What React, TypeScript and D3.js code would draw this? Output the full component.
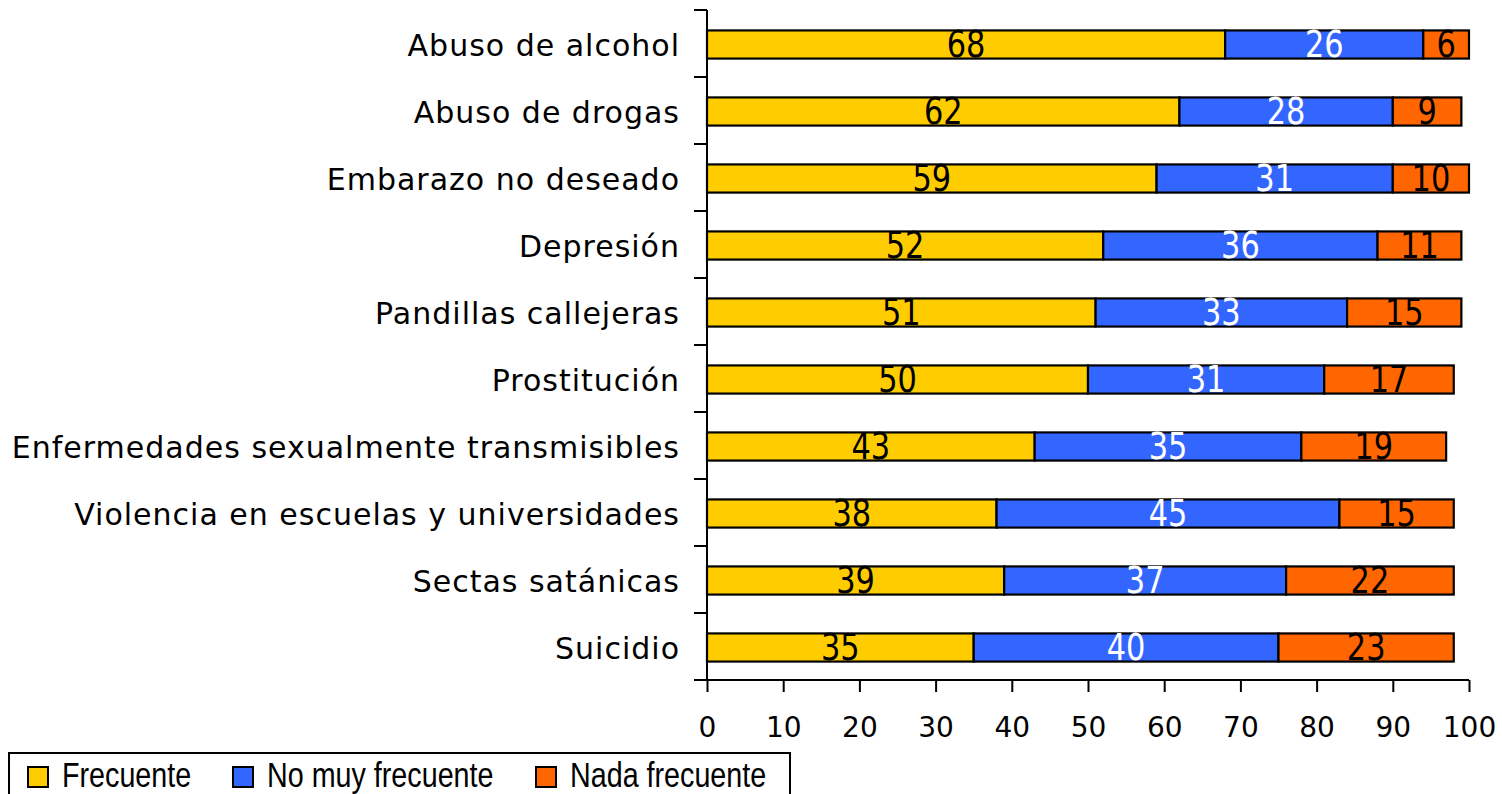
import { useEffect, useRef } from 'react';
import * as d3 from 'd3';

const categories = [
  'Abuso de alcohol',
  'Abuso de drogas',
  'Embarazo no deseado',
  'Depresión',
  'Pandillas callejeras',
  'Prostitución',
  'Enfermedades sexualmente transmisibles',
  'Violencia en escuelas y universidades',
  'Sectas satánicas',
  'Suicidio',
];
const frecuente = [68, 62, 59, 52, 51, 50, 43, 38, 39, 35];
const noMuyFrecuente = [26, 28, 31, 36, 33, 31, 35, 45, 37, 40];
const nadaFrecuente = [6, 9, 10, 11, 15, 17, 19, 15, 22, 23];
const seriesNames = ['Frecuente', 'No muy frecuente', 'Nada frecuente'];
const seriesColors = ['#FFCC00', '#3366FF', '#FF6600'];
const labelColors = ['#000', '#fff', '#000'];
const xTicks = [0, 10, 20, 30, 40, 50, 60, 70, 80, 90, 100];

export default function App() {
  const svgRef = useRef<SVGSVGElement>(null);

  useEffect(() => {
    if (!svgRef.current) return;
    const svg = d3.select(svgRef.current);
    svg.selectAll('*').remove();

    const left = 707;
    const right = 1469;
    const top = 10;
    const bottom = 680;

    const x = d3.scaleLinear().domain([0, 100]).range([left, right]);
    const y = d3.scaleBand<string>().domain(categories).range([top, bottom]).paddingInner(0.58).paddingOuter(0.29);

    const rows = categories.map((c, i) => ({
      cat: c,
      vals: [frecuente[i], noMuyFrecuente[i], nadaFrecuente[i]],
    }));

    // stacked segments
    const segs = rows.flatMap((r) => {
      let acc = 0;
      return r.vals.map((v, k) => {
        const s = { cat: r.cat, k, x0: acc, x1: acc + v, v };
        acc += v;
        return s;
      });
    });

    const g = svg.append('g');
    g.selectAll('rect.seg')
      .data(segs)
      .enter()
      .append('rect')
      .attr('class', 'seg')
      .attr('x', (d) => x(d.x0))
      .attr('y', (d) => y(d.cat)! + 1)
      .attr('width', (d) => x(d.x1) - x(d.x0))
      .attr('height', y.bandwidth())
      .attr('fill', (d) => seriesColors[d.k])
      .attr('stroke', '#000')
      .attr('stroke-width', 2.2);

    g.selectAll('text.val')
      .data(segs)
      .enter()
      .append('text')
      .attr('class', 'val')
      .attr('transform', (d) => `translate(${(x(d.x0) + x(d.x1)) / 2},${y(d.cat)! + y.bandwidth() / 2 + 13}) scale(0.8,1)`)
      .attr('text-anchor', 'middle')
      .attr('font-family', 'DejaVu Sans')
      .attr('font-size', 38)
      .attr('fill', (d) => labelColors[d.k])
      .text((d) => d.v);

    // y axis: line + ticks at band boundaries
    const step = y.step();
    const yAxis = svg.append('g');
    yAxis.append('line')
      .attr('x1', left).attr('x2', left)
      .attr('y1', top).attr('y2', bottom)
      .attr('stroke', '#000').attr('stroke-width', 2);
    yAxis.selectAll('line.tk')
      .data(d3.range(categories.length + 1))
      .enter()
      .append('line')
      .attr('class', 'tk')
      .attr('x1', left - 13).attr('x2', left)
      .attr('y1', (i) => top + i * step).attr('y2', (i) => top + i * step)
      .attr('stroke', '#000').attr('stroke-width', 2);
    yAxis.selectAll('text.cat')
      .data(categories)
      .enter()
      .append('text')
      .attr('class', 'cat')
      .attr('x', 680)
      .attr('y', (d) => y(d)! + y.bandwidth() / 2 + 12)
      .attr('text-anchor', 'end')
      .attr('font-family', 'DejaVu Sans')
      .attr('font-size', 30)
      .attr('letter-spacing', 1)
      .attr('fill', '#000')
      .text((d) => d);

    // x axis
    const xAxis = svg.append('g')
      .attr('transform', `translate(0,${bottom})`)
      .call(d3.axisBottom(x).tickValues(xTicks).tickSize(12).tickPadding(25).tickSizeOuter(0));
    xAxis.select('.domain').attr('stroke', '#000').attr('stroke-width', 2).attr('d', `M${left - 13},0H${x(100)}`);
    xAxis.selectAll('.tick line').attr('stroke', '#000').attr('stroke-width', 2);
    xAxis.selectAll('.tick text')
      .attr('font-family', 'DejaVu Sans')
      .attr('font-size', 28)
      .attr('fill', '#000')
      .attr('dy', '0.71em');

    // legend
    const lg = svg.append('g');
    lg.append('rect')
      .attr('x', 9).attr('y', 753)
      .attr('width', 781).attr('height', 60)
      .attr('fill', '#fff').attr('stroke', '#000').attr('stroke-width', 2);
    const itemX = [28, 233, 536];
    seriesNames.forEach((name, i) => {
      lg.append('rect')
        .attr('x', itemX[i]).attr('y', 767)
        .attr('width', 20).attr('height', 20)
        .attr('fill', seriesColors[i]).attr('stroke', '#000').attr('stroke-width', 2);
      lg.append('text')
        .attr('transform', `translate(${itemX[i] + 34},787) scale(0.82,1)`)
        .attr('font-family', 'Liberation Sans')
        .attr('font-size', 35)
        .attr('fill', '#000')
        .text(name);
    });
  }, []);

  return (
    <svg
      ref={svgRef}
      width={1502}
      height={794}
      viewBox="0 0 1502 794"
      style={{ position: 'absolute', left: 0, top: 0, background: '#fff' }}
    />
  );
}
